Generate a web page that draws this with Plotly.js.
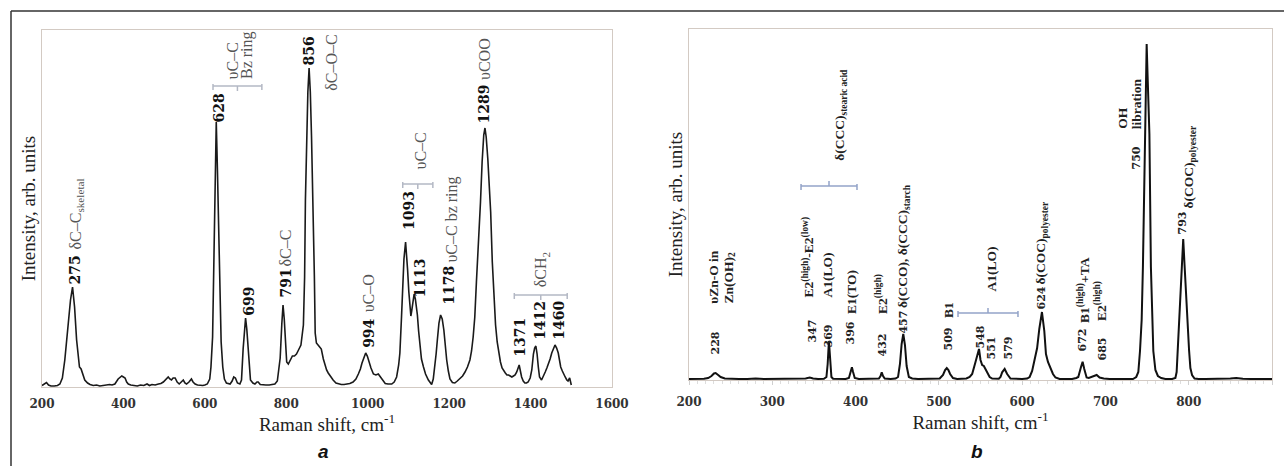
<!DOCTYPE html>
<html><head><meta charset="utf-8">
<script src="https://cdn.plot.ly/plotly-3.0.1.min.js"></script>
<style>html,body{margin:0;padding:0;background:#fff}#chart{width:1284px;height:466px}</style>
</head><body><div id="chart"></div>
<script>
// ---- Panel a: Raman spectrum (shift cm-1, intensity arb. units) ----
const spectrumA = [[200,1.5],[206,3],[211,4.5],[216,2],[222,1],[230,1],[238,1.5],[244,3],[250,9],[256,27],[261,48],[265,64],[270,87],[275,100],[280,80],[285,47],[289,28],[292,20],[296,18],[300,12],[305,7],[312,4],[318,2.5],[326,1.5],[334,2],[342,1],[350,1.5],[358,1.5],[366,2.5],[372,2],[379,3],[387,8],[392,10],[396,11],[400,10],[404,9],[408,5],[412,3],[418,2],[426,1.5],[434,1],[442,2],[450,1.5],[458,3],[464,1.5],[470,2.5],[478,2],[486,3],[492,3.5],[498,5],[503,7],[510,10],[514,8],[518,7],[522,9],[527,9],[532,5],[537,3],[542,5],[547,7],[551,4],[555,3],[561,5],[567,8],[571,5],[576,3],[582,2],[588,1.5],[595,1.5],[600,2],[606,3],[612,8],[615,20],[619,50],[622,110],[625,190],[628,265],[631,215],[634,150],[637,90],[640,45],[644,20],[648,8],[653,4],[658,3],[662,3],[667,6],[671,10],[675,9],[680,4],[686,3],[690,7],[694,38],[697,60],[700,69],[703,58],[706,38],[709,17],[712,7],[718,4],[723,3],[728,5],[731,5],[736,2.5],[742,2],[750,2],[758,2],[765,2.5],[772,3],[778,6],[781,14],[785,29],[789,63],[792,82],[795,68],[798,45],[801,25],[805,23],[810,28],[815,31],[820,31],[825,33],[830,37],[836,42],[842,62],[845,110],[847,187],[850,250],[853,295],[856,319],[859,295],[862,250],[865,200],[867,170],[869,110],[871,54],[874,44],[880,41],[886,38],[891,28],[895,22],[899,17],[903,14],[909,10],[915,7],[922,4],[928,3],[935,2.5],[942,2.5],[948,3],[956,3.5],[964,5],[971,8],[977,13],[982,18],[986,24],[991,31],[995,34],[999,31],[1003,25],[1008,19],[1014,13],[1020,12],[1026,13],[1030,11],[1034,9],[1038,6],[1043,3.5],[1050,3],[1059,3],[1065,5],[1071,10],[1076,22],[1079,34],[1083,70],[1086,100],[1089,128],[1093,145],[1096,132],[1098,117],[1101,95],[1104,74],[1106,71],[1108,76],[1111,85],[1114,93],[1117,88],[1120,80],[1122,72],[1125,56],[1128,40],[1132,28],[1137,20],[1142,13],[1149,7],[1153,4],[1157,2.5],[1161,8],[1165,20],[1168,33],[1171,47],[1175,64],[1179,72],[1183,68],[1187,57],[1190,42],[1194,27],[1198,16],[1202,8],[1208,4.5],[1214,4],[1220,6],[1227,9],[1233,11],[1239,15],[1245,20],[1251,27],[1255,36],[1259,50],[1263,70],[1267,105],[1272,140],[1277,185],[1281,225],[1285,252],[1288,259],[1291,250],[1295,228],[1299,200],[1302,175],[1306,125],[1310,88],[1314,62],[1318,45],[1322,33],[1326,25],[1330,19],[1334,16],[1338,14],[1342,12],[1346,12],[1350,11],[1354,10],[1358,11],[1362,12],[1366,15],[1369,20],[1372,22],[1375,16],[1378,10],[1382,6],[1386,4],[1390,4],[1394,5],[1399,9],[1403,17],[1407,33],[1410,39],[1413,41],[1416,33],[1419,20],[1422,10],[1427,7],[1431,10],[1436,15],[1440,19],[1444,23],[1448,28],[1452,34],[1456,38],[1460,42],[1464,39],[1468,34],[1471,27],[1474,20],[1478,16],[1481,14],[1485,10],[1489,7],[1492,6],[1496,9],[1498,4],[1500,2]];
const shiftA = spectrumA.map(p => p[0]);
const intensityA = spectrumA.map(p => p[1]);

// ---- Panel b ----
const spectrumB = [[200,1],[210,1],[218,1.2],[223,2],[227,4],[230,6.5],[232,7],[235,5],[238,3],[243,1.5],[250,1],[260,1],[270,1],[280,1.5],[290,1],[300,1],[310,1],[320,1],[330,1.2],[340,1.5],[345,2.5],[349,1.5],[355,1],[362,1.2],[365,3],[366.5,16],[368,39],[369.5,20],[371,3],[373,1.2],[380,1],[388,1],[392,2],[394,8],[395.6,12.7],[397,8],[399,2],[404,1],[412,1],[420,1],[428,1.5],[430,4],[431.4,7.7],[433,4],[435,1.5],[442,1],[448,1.5],[451,3],[453.3,16],[455.3,36],[457.3,46],[459.3,35],[461.3,14],[464,3],[468,1.5],[475,1],[485,1],[495,1],[501,1.5],[505,5],[507.5,10],[509.5,12],[511.5,10],[513.5,6],[517,2],[522,1],[527,1],[533,1.5],[537,3],[540,6],[544,18],[546.5,27],[548.2,31],[550,20],[552,15],[554,14],[556,11],[558,7],[561,3],[564,1.5],[568,1],[572,1.2],[574,3],[576,7.7],[579,11],[582,6],[586,1.5],[592,1],[600,1],[606,1.5],[609,3],[612,9],[615,19],[618,32],[620.6,51],[623.8,68],[626.6,49],[628.6,26],[631,18],[634,12],[637,6],[640,2.5],[645,1],[652,1],[660,1],[665,2],[667.4,3],[670.6,12.7],[672.6,18.3],[674.6,11],[677.4,2.5],[680,2],[683.4,3],[686,4],[689.5,5],[693,2.5],[698,1.5],[705,1],[715,1],[725,1],[733,1],[737,3],[739.5,8],[741.5,29],[743.5,60],[745,113],[747.2,246],[748.4,305],[749.5,336],[750.6,305],[752.8,246],[754.6,113],[756,60],[757.5,29],[760,10],[763,4],[767,2],[772,1],[780,1],[784,2],[785.5,8],[786.8,30],[788.5,55],[790.4,80],[792,118],[793.4,141],[795,115],[797,80],[798.8,50],[800.4,30],[802,12],[804,5],[807,1.5],[812,1],[820,1],[830,1],[840,1.2],[850,1.5],[857,2],[865,1.2],[875,1],[885,1],[893,1.5],[900,1]];
const shiftB = spectrumB.map(p => p[0]);
const intensityB = spectrumB.map(p => p[1]);

const tickValsA = [200,400,600,800,1000,1200,1400,1600];
const tickValsB = [200,300,400,500,600,700,800,900];

// peak labels: [text, x, y (bottom of label)]
const peakNumsA = [['275',281,103],['628',637,265],['699',706.7,71],['791',797,89],['856',858,322],['994',1001.6,39],['1093',1100,157],['1113',1126,89],['1178',1198,82],['1289',1288,264],['1371',1372,30],['1412',1421.6,47],['1460',1468,47]];
const bandNamesA = [['δC–C<sub>skeletal</sub>',283.5,137],['υC–C',669,308],['Bz ring',703.6,308],['δC–C',797,120],['δC–O–C',911.6,296],['υC–O',1001.6,75],['υC–C',1128.5,217],['υC–C bz ring',1206,124],['υCOO',1288,307],['δCH<sub>2</sub>',1427.5,100]];
const bracketsA = [[620,740,301],[1086,1160,203],[1360,1490,92]];

const peakNumsB = [['228',232.4,26],['347',347.7,37],['369',366.9,32],['396',394.5,36],['432',432.9,24],['457',457,46],['509',511,29],['548',549.4,31],['551',563.8,21],['579',584.2,21],['624',623.8,71],['672',673,29],['685',695.9,19],['750',737.9,211],['793',793.1,146]];
const bandNamesB = [['υZn-O in',228.6,76],['Zn(OH)<sub>2</sub>',247.5,76],['E2<sup>(high)</sup>-E2<sup>(low)</sup>',342.9,82],['A1(LO)',365.7,82],['E1(TO)',394.5,66],['E2<sup>(high)</sup>',430.5,66],['δ(CCO), δ(CCC)<sub>starch</sub>',457,72],['δ(CCC)<sub>stearic acid</sub>',381,219],['B1',511,62],['A1(LO)',563.8,89],['δ(COC)<sub>polyester</sub>',623.8,96],['B1<sup>(high)</sup>+TA',673,57],['E2<sup>(high)</sup>',693.5,59],['OH',719.5,251],['libration',737.5,251],['δ(COC)<sub>polyester</sub>',801.5,172]];
const bracketsB = [[334.5,401.7,194],[523,595,67]];

const W = 1284, H = 466;
const frameColor = '#d3cac3';
const annotations = [];
function rotLabel(text, x, y, xr, yr, font) {
  annotations.push({text, x, y, xref: xr, yref: yr, textangle: -90, xanchor: 'center', yanchor: 'bottom',
    showarrow: false, font, align: 'left', borderpad: 0, borderwidth: 0});
}
const numA = {family: 'DejaVu Serif', size: 14, color: '#111', weight: 700};
const nameA = {family: 'Liberation Serif', size: 16, color: '#555'};
const numB = {family: 'DejaVu Serif', size: 11, color: '#222', weight: 700};
const nameB = {family: 'Liberation Serif', size: 13.5, color: '#222', weight: 700};
peakNumsA.forEach(p => rotLabel(p[0], p[1], p[2], 'x', 'y', numA));
bandNamesA.forEach(p => rotLabel(p[0], p[1], p[2], 'x', 'y', nameA));
peakNumsB.forEach(p => rotLabel(p[0], p[1], p[2], 'x2', 'y2', numB));
bandNamesB.forEach(p => rotLabel(p[0], p[1], p[2], 'x2', 'y2', nameB));

const panelLetterFont = {family: 'Liberation Sans', size: 19, color: '#111'};
annotations.push({text: '<b><i>a</i></b>', x: 324/W, y: 1-451/H, xref: 'paper', yref: 'paper', xanchor: 'center', yanchor: 'middle', showarrow: false, font: panelLetterFont});
annotations.push({text: '<b><i>b</i></b>', x: 977/W, y: 1-451/H, xref: 'paper', yref: 'paper', xanchor: 'center', yanchor: 'middle', showarrow: false, font: panelLetterFont});

const shapes = [];
function bracket(b, xr, yr, color, up) {
  const [x0, x1, y] = b, xm = (x0 + x1) / 2;
  const line = {color, width: 1.5};
  shapes.push({type: 'line', xref: xr, yref: yr, x0, x1, y0: y, y1: y, line});
  shapes.push({type: 'line', xref: xr, yref: yr, x0, x1: x0, y0: y - 4, y1: y + 2, line});
  shapes.push({type: 'line', xref: xr, yref: yr, x0: x1, x1, y0: y - 4, y1: y + 2, line});
  shapes.push({type: 'line', xref: xr, yref: yr, x0: xm, x1: xm, y0: y, y1: up ? y + 5 : y - 5, line});
}
bracketsA.forEach(b => bracket(b, 'x', 'y', '#b3b8c4', false));
bracketsB.forEach(b => bracket(b, 'x2', 'y2', '#93a3c8', true));
// outer figure frame (top and left edges)
shapes.push({type: 'line', xref: 'paper', yref: 'paper', x0: 11/W, x1: 1, y0: 1-11/H, y1: 1-11/H, line: {color: '#333', width: 1.5}});
shapes.push({type: 'line', xref: 'paper', yref: 'paper', x0: 11/W, x1: 11/W, y0: 1-11/H, y1: 0, line: {color: '#333', width: 1.5}});

const tickFont = {family: 'DejaVu Serif', size: 12, color: '#333', weight: 700};
const titleFont = {family: 'Liberation Serif', size: 19, color: '#222'};
const boldTicks = v => v.map(t => '<b>' + t + '</b>');

const traces = [
  {x: shiftA, y: intensityA, xaxis: 'x', yaxis: 'y', type: 'scatter', mode: 'lines', line: {color: '#1a1a1a', width: 1.6}, hoverinfo: 'x+y'},
  {x: shiftB, y: intensityB, xaxis: 'x2', yaxis: 'y2', type: 'scatter', mode: 'lines', line: {color: '#111', width: 2}, hoverinfo: 'x+y'}
];

const layout = {
  width: W, height: H, margin: {l: 0, r: 0, t: 0, b: 0, pad: 0},
  paper_bgcolor: '#fff', plot_bgcolor: '#fff', showlegend: false,
  xaxis: {domain: [42/W, 612/W], range: [200, 1600], tickvals: tickValsA, ticktext: boldTicks(tickValsA), ticks: '', showgrid: false, zeroline: false,
    showline: true, mirror: true, linecolor: frameColor, linewidth: 1.2, tickfont: tickFont, ticklabelstandoff: 5,
    title: {text: 'Raman shift, cm<sup>-1</sup>', font: titleFont, standoff: 0}, anchor: 'y'},
  yaxis: {domain: [1-387/H, 1-30/H], range: [0, 357], showticklabels: false, ticks: '', showgrid: false, zeroline: false,
    showline: true, mirror: true, linecolor: frameColor, linewidth: 1.2,
    title: {text: 'Intensity, arb. units', font: titleFont, standoff: 0}, anchor: 'x'},
  xaxis2: {domain: [689/W, 1272/W], range: [200, 900], tickvals: tickValsB, ticktext: boldTicks(tickValsB), ticks: 'outside', ticklen: 4, tickcolor: '#d0d0d0',
    minor: {dtick: 10, ticks: 'outside', ticklen: 3, tickcolor: '#dddddd'}, ticklabelstandoff: 6,
    showgrid: false, zeroline: false, showline: true, mirror: true, linecolor: frameColor, linewidth: 1.2, tickfont: tickFont,
    title: {text: 'Raman shift, cm<sup>-1</sup>', font: titleFont, standoff: 0}, anchor: 'y2'},
  yaxis2: {domain: [1-380/H, 1-29/H], range: [0, 351], showticklabels: false, ticks: '', showgrid: false, zeroline: false,
    showline: true, mirror: true, linecolor: frameColor, linewidth: 1.2,
    title: {text: 'Intensity, arb. units', font: titleFont, standoff: 0}, anchor: 'x2'},
  annotations, shapes
};
Plotly.newPlot('chart', traces, layout, {displayModeBar: false, staticPlot: true});
</script></body></html>
